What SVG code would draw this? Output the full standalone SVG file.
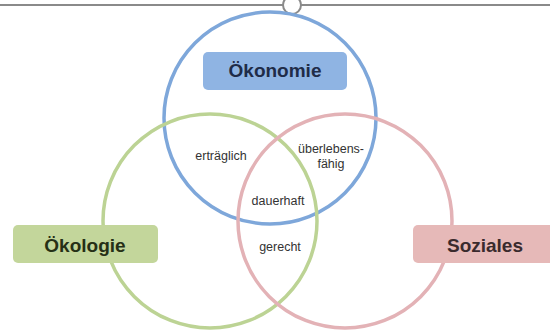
<svg xmlns="http://www.w3.org/2000/svg" width="550" height="333" viewBox="0 0 550 333">
<style>
.ring{fill:none;stroke-width:3.5}
.box{stroke:none}
.lbl{font-family:"Liberation Sans",Arial,sans-serif;font-weight:bold;font-size:19px;text-anchor:middle}
.sm{font-family:"Liberation Sans",Arial,sans-serif;font-size:12.5px;fill:#333333;text-anchor:middle}
</style>
<rect width="550" height="333" fill="#ffffff"/>
<g id="frame">
<line x1="0" y1="5" x2="550" y2="5" stroke="#8a8a8a" stroke-width="2"/>
<circle cx="292" cy="5" r="9" fill="#ffffff" stroke="#8a8a8a" stroke-width="2"/>
</g>
<g id="connectors">
<circle id="ring-oekonomie" class="ring" cx="270" cy="118" r="106" stroke="#7ea7da"/>
<circle id="ring-oekologie" class="ring" cx="210" cy="221" r="107" stroke="#bcd394"/>
<circle id="ring-soziales" class="ring" cx="345" cy="221" r="107" stroke="#e3b2b6"/>
</g>
<g id="oekonomie">
<rect class="box" x="203" y="52" width="144" height="38" rx="5" fill="#8fb4e3"/>
<text class="lbl" x="275" y="77" fill="#1f2c48">Ökonomie</text>
</g>
<g id="oekologie">
<rect class="box" x="13" y="225" width="145" height="38" rx="5" fill="#c3d69b"/>
<text class="lbl" x="85" y="252" fill="#263016">Ökologie</text>
</g>
<g id="soziales">
<rect class="box" x="413" y="225" width="145" height="38" rx="5" fill="#e6b9b8"/>
<text class="lbl" x="485" y="252" fill="#3a2a2d">Soziales</text>
</g>
<g id="ertraeglich"><text class="sm" x="221" y="160">erträglich</text></g>
<g id="ueberlebensfaehig"><text class="sm" x="331" y="153">überlebens-</text><text class="sm" x="331" y="168">fähig</text></g>
<g id="dauerhaft"><text class="sm" x="278" y="205">dauerhaft</text></g>
<g id="gerecht"><text class="sm" x="280" y="251">gerecht</text></g>
</svg>
